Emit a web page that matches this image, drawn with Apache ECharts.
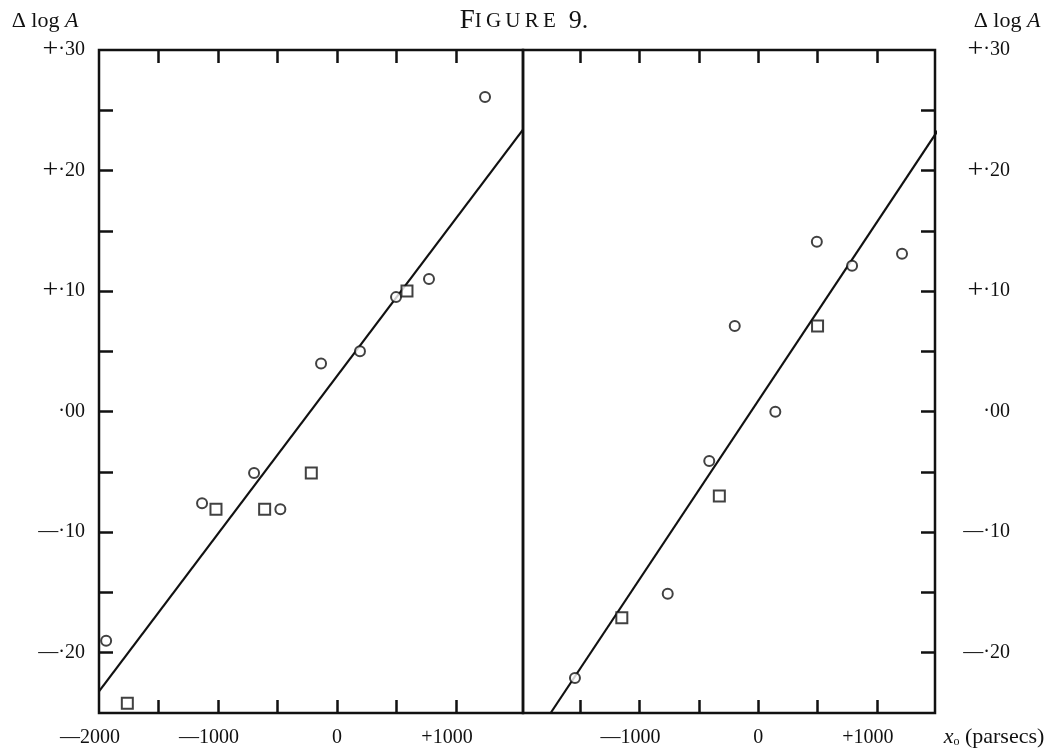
<!DOCTYPE html>
<html>
<head>
<meta charset="utf-8">
<script src="https://cdn.jsdelivr.net/npm/echarts@6/dist/echarts.min.js"></script>
<style>html,body{margin:0;padding:0;background:#fff;}#c{width:1055px;height:749px;}</style>
</head>
<body>
<div id="c"></div>
<script>
// ---- data (x in parsecs, y = Δ log A) ----
const leftCircles = [[-1940,-0.190],[-1134,-0.076],[-697,-0.051],[-476,-0.081],[-134,0.040],[193,0.050],[496,0.095],[773,0.110],[1244,0.261]];
const leftSquares = [[-1762,-0.242],[-1017,-0.081],[-608,-0.081],[-216,-0.051],[588,0.100]];
const leftLine = [[-2000,-0.232],[1563,0.234]];
const rightCircles = [[-1545,-0.221],[-763,-0.151],[-413,-0.041],[-198,0.071],[144,0.000],[494,0.141],[791,0.121],[1212,0.131]];
const rightSquares = [[-1150,-0.171],[-328,-0.070],[500,0.071]];
const rightLine = [[-1750,-0.250],[1560,0.240]];
const xTickValues = [-1500,-1000,-500,0,500,1000];
const leftXLabels = [-2000,-1000,0,1000];
const rightXLabels = [-1000,0,1000];
const yTickValues = [-0.20,-0.15,-0.10,-0.05,0.00,0.05,0.10,0.15,0.20,0.25];
const yLabelValues = [-0.20,-0.10,0.00,0.10,0.20,0.30];

const SERIF = '"Liberation Serif","DejaVu Serif",serif';
const INK = '#111';

function xFmt(v){
  if (v === 0) return '{z|0}';
  return '{a|' + (v < 0 ? '—' : '+') + Math.abs(v) + '}';
}
function yFmt(v){
  const d = String(Math.round(Math.abs(v)*100)).padStart(2,'0');
  if (Math.abs(v) < 1e-9) return '·' + d;
  return (v > 0 ? '{p|+}' : '{m|—}') + '·' + d;
}
const xRich = {
  a: {fontFamily: SERIF, fontSize: 20, color: INK, padding: [0,18,0,0]},
  z: {fontFamily: SERIF, fontSize: 20, color: INK}
};
const yRich = {
  p: {fontFamily: SERIF, fontSize: 28, color: INK, fontWeight: 'lighter'},
  m: {fontFamily: SERIF, fontSize: 20, color: INK}
};

function bottomX(grid, min, max, labels){
  return {
    type: 'value', gridIndex: grid, position: 'bottom', min: min, max: max,
    axisLine: {show: false, onZero: false}, splitLine: {show: false},
    axisTick: {show: true, inside: true, length: 13, customValues: xTickValues, lineStyle: {color: INK, width: 2.5}},
    axisLabel: {show: true, customValues: labels, margin: 15, formatter: xFmt, rich: xRich, fontFamily: SERIF, fontSize: 20, color: INK}
  };
}
function topX(grid, min, max){
  return {
    type: 'value', gridIndex: grid, position: 'top', min: min, max: max,
    axisLine: {show: false, onZero: false}, splitLine: {show: false},
    axisTick: {show: true, inside: true, length: 13, customValues: xTickValues, lineStyle: {color: INK, width: 2.5}},
    axisLabel: {show: false}
  };
}
function yAx(grid, pos, align, margin){
  return {
    type: 'value', gridIndex: grid, position: pos, min: -0.25, max: 0.30,
    axisLine: {show: false, onZero: false}, splitLine: {show: false},
    axisTick: {show: true, inside: true, length: 14, customValues: yTickValues, lineStyle: {color: INK, width: 2.5}},
    axisLabel: {show: true, customValues: yLabelValues, formatter: yFmt, rich: yRich, align: align, margin: margin,
      fontFamily: SERIF, fontSize: 20, color: INK}
  };
}
function circles(xi, yi, data){
  return {type: 'scatter', xAxisIndex: xi, yAxisIndex: yi, data: data, symbol: 'circle', symbolSize: 10,
    itemStyle: {color: '#fff', borderColor: INK, borderWidth: 2}, z: 5, silent: true};
}
function squares(xi, yi, data){
  return {type: 'scatter', xAxisIndex: xi, yAxisIndex: yi, data: data, symbol: 'rect', symbolSize: 11,
    itemStyle: {color: '#fff', borderColor: INK, borderWidth: 2}, z: 5, silent: true};
}
function fitLine(xi, yi, data){
  return {type: 'line', xAxisIndex: xi, yAxisIndex: yi, data: data, symbol: 'none', clip: false,
    lineStyle: {color: INK, width: 2.2}, z: 3, silent: true};
}

const chart = echarts.init(document.getElementById('c'), null, {renderer: 'canvas'});
const T = '\u2009';
chart.setOption({
  backgroundColor: '#fff',
  animation: false,
  grid: [
    {left: 99, right: 532, top: 50, bottom: 36, show: true, borderColor: INK, borderWidth: 2.5, backgroundColor: 'transparent'},
    {left: 523, right: 120, top: 50, bottom: 36, show: true, borderColor: INK, borderWidth: 2.5, backgroundColor: 'transparent'}
  ],
  xAxis: [
    bottomX(0, -2000, 1563, leftXLabels),
    topX(0, -2000, 1563),
    bottomX(1, -1983, 1490, rightXLabels),
    topX(1, -1983, 1490)
  ],
  yAxis: [
    yAx(0, 'left', 'right', 14),
    yAx(1, 'right', 'right', 75)
  ],
  series: [
    fitLine(0, 0, leftLine),
    circles(0, 0, leftCircles),
    squares(0, 0, leftSquares),
    fitLine(2, 1, rightLine),
    circles(2, 1, rightCircles),
    squares(2, 1, rightSquares)
  ],
  graphic: [
    {type: 'text', x: 524, y: 21, style: {text: '{a|F}{b|' + ['I','G','U','R','E'].join(T) + '}{c|  9.}', textAlign: 'center', textVerticalAlign: 'middle',
      rich: {a: {fontFamily: SERIF, fontSize: 27, fill: INK}, b: {fontFamily: SERIF, fontSize: 21, fill: INK}, c: {fontFamily: SERIF, fontSize: 26, fill: INK}}}},
    {type: 'text', x: 45, y: 21, style: {text: '{a|Δ log }{b|A}', textAlign: 'center', textVerticalAlign: 'middle',
      rich: {a: {fontFamily: SERIF, fontSize: 22, fill: INK}, b: {fontFamily: SERIF, fontSize: 22, fontStyle: 'italic', fill: INK}}}},
    {type: 'text', x: 1007, y: 21, style: {text: '{a|Δ log }{b|A}', textAlign: 'center', textVerticalAlign: 'middle',
      rich: {a: {fontFamily: SERIF, fontSize: 22, fill: INK}, b: {fontFamily: SERIF, fontSize: 22, fontStyle: 'italic', fill: INK}}}},
    {type: 'text', x: 994, y: 737, style: {text: '{x|x}{s|o}{t| (parsecs)}', textAlign: 'center', textVerticalAlign: 'middle',
      rich: {x: {fontFamily: SERIF, fontSize: 22, fontStyle: 'italic', fill: INK},
             s: {fontFamily: SERIF, fontSize: 12, fill: INK, verticalAlign: 'bottom', padding: [8,0,0,0]},
             t: {fontFamily: SERIF, fontSize: 22, fill: INK}}}}
  ]
});
</script>
</body>
</html>
